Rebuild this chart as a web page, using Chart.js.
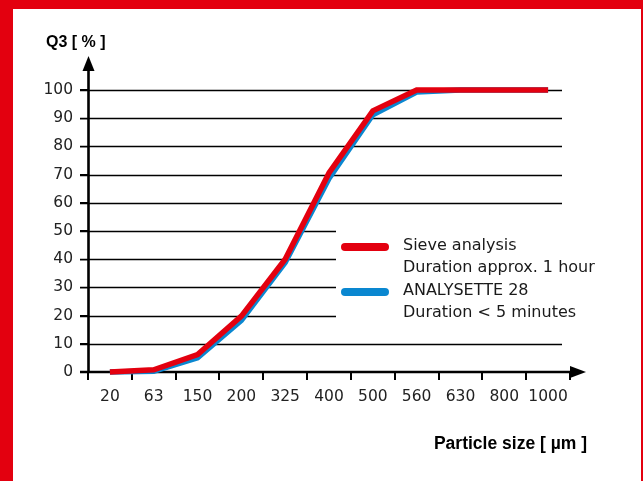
<!DOCTYPE html>
<html>
<head>
<meta charset="utf-8">
<script src="https://cdn.jsdelivr.net/npm/chart.js@4"></script>
<style>
  html, body { margin: 0; padding: 0; }
  body { width: 643px; height: 481px; background: #e3000f; position: relative; overflow: hidden; }
  #frame { position: absolute; left: 13px; top: 9px; width: 628px; height: 472px; background: #fff; }
</style>
</head>
<body>
<div id="frame"><canvas id="q3Chart"></canvas></div>
<script>
// Data
var sizes = ["20", "63", "150", "200", "325", "400", "500", "560", "630", "800", "1000"];
var sieveValues = [0, 0.8, 6.2, 19.8, 40, 70.6, 92.6, 100, 100, 100, 100];
var analysetteValues = [0, 0.3, 5, 18.3, 38.8, 68.6, 91.2, 99.3, 100, 100, 100];
var yTicks = [0, 10, 20, 30, 40, 50, 60, 70, 80, 90, 100];
var legendLines = [
    ["Sieve analysis", "Duration approx. 1 hour"],
    ["ANALYSETTE 28", "Duration < 5 minutes"]
];

var RED = "#e3000f";
var BLUE = "#0a87d0";

// Axes with arrows, gridlines, legend and titles
var decorPlugin = {
    id: "decor",
    beforeDatasetsDraw: function (chart) {
        var ctx = chart.ctx, a = chart.chartArea, y = chart.scales.y;
        ctx.save();
        // horizontal gridlines
        ctx.strokeStyle = "#000";
        ctx.lineWidth = 1.3;
        yTicks.forEach(function (v) {
            if (v === 0) return;
            var py = Math.round(y.getPixelForValue(v)) + 0.5;
            ctx.beginPath();
            ctx.moveTo(a.left - 8, py);
            ctx.lineTo(a.right - 8, py);
            ctx.stroke();
        });
        // white legend box hides the gridlines behind it
        ctx.fillStyle = "#fff";
        ctx.fillRect(a.left + 248, y.getPixelForValue(54), a.right - a.left - 248, y.getPixelForValue(16) - y.getPixelForValue(54));

        // axis lines
        ctx.lineWidth = 2.6;
        var x0 = a.left + 0.5, y0 = y.getPixelForValue(0);
        ctx.beginPath();
        ctx.moveTo(x0, a.top - 19);
        ctx.lineTo(x0, y0 + 1);
        ctx.moveTo(a.left - 8, y0);
        ctx.lineTo(a.right, y0);
        ctx.stroke();
        // arrow heads
        ctx.fillStyle = "#000";
        ctx.beginPath();
        ctx.moveTo(x0, a.top - 34);
        ctx.lineTo(x0 + 6, a.top - 19);
        ctx.lineTo(x0 - 6, a.top - 19);
        ctx.closePath();
        ctx.fill();
        ctx.beginPath();
        ctx.moveTo(a.right + 16, y0);
        ctx.lineTo(a.right, y0 - 6);
        ctx.lineTo(a.right, y0 + 6);
        ctx.closePath();
        ctx.fill();
        ctx.restore();
    },
    afterDatasetsDraw: function (chart) {
        var ctx = chart.ctx, a = chart.chartArea;
        ctx.save();
        // legend
        var lx = a.left + 257, tx = a.left + 315, top = a.top + 156;
        chart.data.datasets.forEach(function (ds, i) {
            var ly = top + i * 45;
            ctx.strokeStyle = ds.borderColor;
            ctx.lineWidth = 8;
            ctx.lineCap = "round";
            ctx.beginPath();
            ctx.moveTo(lx, ly + 1);
            ctx.lineTo(lx + 40, ly + 1);
            ctx.stroke();
            ctx.fillStyle = "#1a1a1a";
            ctx.font = "16px 'DejaVu Sans'";
            ctx.textBaseline = "middle";
            ctx.textAlign = "left";
            legendLines[i].forEach(function (t, j) {
                ctx.fillText(t, tx, ly + j * 22);
            });
        });
        // axis titles
        ctx.fillStyle = "#000";
        ctx.font = "bold 16px 'Liberation Sans'";
        ctx.textBaseline = "middle";
        ctx.textAlign = "left";
        ctx.fillText("Q3 [ % ]", a.left - 42, a.top - 47);
        ctx.font = "bold 17.5px 'Liberation Sans'";
        ctx.textAlign = "right";
        ctx.fillText("Particle size [ µm ]", a.right + 17, a.bottom + 72);
        ctx.restore();
    }
};

document.addEventListener("DOMContentLoaded", function () {
    var canvas = document.getElementById("q3Chart");
    var q3Chart = new Chart(canvas, {
        type: "line",
        data: {
            labels: sizes,
            datasets: [{
                label: legendLines[0].join(" "),
                data: sieveValues,
                borderColor: RED,
                borderWidth: 5.5,
                pointRadius: 0,
                tension: 0,
                clip: false
            }, {
                label: legendLines[1].join(" "),
                data: analysetteValues,
                borderColor: BLUE,
                borderWidth: 5.5,
                pointRadius: 0,
                tension: 0,
                clip: false
            }]
        },
        options: {
            responsive: true,
            maintainAspectRatio: false,
            animation: false,
            layout: { padding: { top: 81, right: 71, left: 0, bottom: 0 } },
            plugins: { legend: { display: false }, tooltip: { enabled: false } },
            scales: {
                x: {
                    offset: true,
                    border: { display: false },
                    grid: {
                        offset: true,
                        drawOnChartArea: false,
                        tickLength: 8,
                        lineWidth: 2,
                        color: function (c) { return c.index === sizes.length ? "rgba(0,0,0,0)" : "#000"; }
                    },
                    ticks: { color: "#222", padding: 8, font: { family: "DejaVu Sans", size: 15.5 }, maxRotation: 0, autoSkip: false },
                    afterFit: function (s) { s.height = 109; }
                },
                y: {
                    min: 0,
                    max: 100,
                    border: { display: false },
                    grid: { drawOnChartArea: false, tickLength: 8, lineWidth: 1.3, color: "#000" },
                    ticks: { stepSize: 10, color: "#222", padding: 7, font: { family: "DejaVu Sans", size: 15.5 } },
                    afterFit: function (s) { s.width = 75; }
                }
            }
        },
        plugins: [decorPlugin]
    });
});
</script>
</body>
</html>
